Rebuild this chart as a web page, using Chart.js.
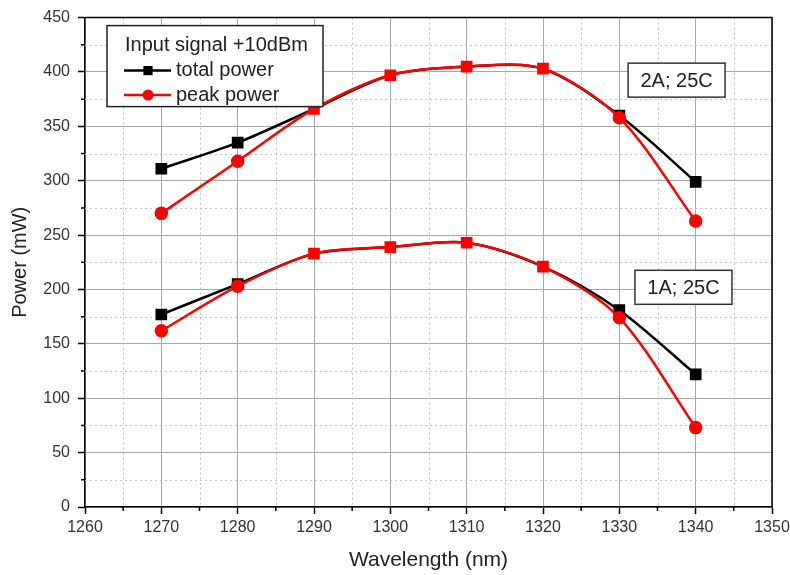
<!DOCTYPE html>
<html lang="en">
<head>
<meta charset="UTF-8">
<title>Power vs Wavelength</title>
<script src="https://cdn.jsdelivr.net/npm/chart.js"></script>
<style>
  body { margin: 0; background: #fff; }
  #wrap { width: 790px; height: 575px; }
</style>
</head>
<body>
<div id="wrap"><canvas id="powerChart" width="790" height="575"></canvas></div>
<script>
// wavelengths, nm
var wavelengths = [1270, 1280, 1290, 1300, 1310, 1320, 1330, 1340];
// 2A; 25C
var total2A = [311, 335, 366, 397, 405, 403, 360, 299];
var peak2A  = [270, 318, 366, 397, 405, 403, 358, 263];
// 1A; 25C
var total1A = [177, 205, 233, 239, 243, 221, 181, 122];
var peak1A  = [162, 203, 233, 239, 243, 221, 174, 73];

var legendTitle = 'Input signal +10dBm';
var seriesNames = ['total power', 'peak power'];
var notes = [
  { text: '2A; 25C', x: 1337.5, y: 392.5 },
  { text: '1A; 25C', x: 1338.4, y: 202 }
];

var FONT = '"Liberation Sans", Arial, sans-serif';
var RED = '#ff0000';

function toXY(ys) {
    return wavelengths.map(function (w, i) { return { x: w, y: ys[i] }; });
}

// where both curves sit on top of each other the original shows a red square only
function same(a, b, i) {
    return Math.abs(a[i] - b[i]) <= 1;
}

function totalSet(total, peak) {
    return {
        data: toXY(total),
        borderColor: '#000',
        borderWidth: 2.5,
        pointStyle: 'rect',
        pointRadius: 6.5,
        pointBackgroundColor: function (c) { return same(total, peak, c.dataIndex) ? RED : '#000'; },
        pointBorderColor: function (c) { return same(total, peak, c.dataIndex) ? RED : '#000'; },
        tension: 0.3,
        order: 1
    };
}

function peakSet(total, peak) {
    return {
        data: toXY(peak),
        borderColor: RED,
        borderWidth: 2.5,
        pointStyle: 'circle',
        pointRadius: function (c) { return same(total, peak, c.dataIndex) ? 0 : 5.5; },
        pointBackgroundColor: RED,
        pointBorderColor: RED,
        tension: 0.3,
        order: 0
    };
}

var framePlugin = {
    id: 'frame',
    beforeDatasetsDraw: function (chart) {
        var ctx = chart.ctx, a = chart.chartArea;
        var xs = chart.scales.x, ys = chart.scales.y;
        ctx.save();
        // minor dotted grid
        ctx.strokeStyle = '#c4c4c4';
        ctx.lineWidth = 1;
        ctx.setLineDash([2, 3]);
        ctx.beginPath();
        for (var v = 1265; v < 1350; v += 10) {
            var px = Math.round(xs.getPixelForValue(v)) + 0.5;
            ctx.moveTo(px, a.top); ctx.lineTo(px, a.bottom);
        }
        for (var w = 25; w < 450; w += 50) {
            var py = Math.round(ys.getPixelForValue(w)) + 0.5;
            ctx.moveTo(a.left, py); ctx.lineTo(a.right, py);
        }
        ctx.stroke();
        // minor ticks outside
        ctx.setLineDash([]);
        ctx.strokeStyle = '#000';
        ctx.lineWidth = 1.5;
        ctx.beginPath();
        for (v = 1265; v < 1350; v += 10) {
            px = xs.getPixelForValue(v);
            ctx.moveTo(px, a.bottom); ctx.lineTo(px, a.bottom + 4);
        }
        for (w = 25; w < 450; w += 50) {
            py = ys.getPixelForValue(w);
            ctx.moveTo(a.left, py); ctx.lineTo(a.left - 4, py);
        }
        ctx.stroke();
        // top and right frame
        ctx.beginPath();
        ctx.moveTo(a.left, a.top); ctx.lineTo(a.right, a.top); ctx.lineTo(a.right, a.bottom);
        ctx.stroke();
        ctx.restore();
    },
    afterDatasetsDraw: function (chart) {
        var ctx = chart.ctx, a = chart.chartArea;
        var xs = chart.scales.x, ys = chart.scales.y;
        ctx.save();
        ctx.font = '20px ' + FONT;
        ctx.textBaseline = 'middle';

        // legend box
        var bx = a.left + 22, by = a.top + 8, bw = 216, bh = 81;
        ctx.fillStyle = '#fff';
        ctx.fillRect(bx, by, bw, bh);
        ctx.strokeStyle = '#222';
        ctx.lineWidth = 1.5;
        ctx.strokeRect(bx, by, bw, bh);
        ctx.fillStyle = '#222';
        ctx.textAlign = 'left';
        ctx.fillText(legendTitle, bx + 18, by + 20);
        var colors = ['#000', RED];
        for (var i = 0; i < 2; i++) {
            var ly = by + 45 + i * 24.5;
            ctx.strokeStyle = colors[i];
            ctx.lineWidth = 2.5;
            ctx.beginPath();
            ctx.moveTo(bx + 17, ly); ctx.lineTo(bx + 64, ly);
            ctx.stroke();
            ctx.fillStyle = colors[i];
            ctx.beginPath();
            if (i === 0) ctx.rect(bx + 41 - 4.6, ly - 4.6, 9.2, 9.2);
            else ctx.arc(bx + 41, ly, 5.5, 0, Math.PI * 2);
            ctx.fill();
            ctx.fillStyle = '#222';
            ctx.fillText(seriesNames[i], bx + 69, ly);
        }

        // notes
        ctx.textAlign = 'center';
        notes.forEach(function (n) {
            var cx = xs.getPixelForValue(n.x), cy = ys.getPixelForValue(n.y);
            ctx.fillStyle = '#fff';
            ctx.fillRect(cx - 48.5, cy - 17, 97, 34);
            ctx.strokeStyle = '#333';
            ctx.lineWidth = 1.5;
            ctx.strokeRect(cx - 48.5, cy - 17, 97, 34);
            ctx.fillStyle = '#222';
            ctx.fillText(n.text, cx, cy + 1);
        });
        ctx.restore();
    }
};

var ctx = document.getElementById('powerChart').getContext('2d');
var chart = new Chart(ctx, {
    type: 'line',
    data: {
        datasets: [
            totalSet(total2A, peak2A), peakSet(total2A, peak2A),
            totalSet(total1A, peak1A), peakSet(total1A, peak1A)
        ]
    },
    options: {
        responsive: false,
        animation: false,
        devicePixelRatio: 1,
        layout: { padding: { top: 14, right: 18, left: 0, bottom: 0 } },
        plugins: { legend: { display: false }, tooltip: { enabled: false } },
        scales: {
            x: {
                type: 'linear',
                min: 1260, max: 1350,
                afterFit: function (s) { s.height = 68; s.paddingLeft = 0; s.paddingRight = 0; },
                ticks: { stepSize: 10, color: '#333', padding: 4, font: { family: FONT, size: 16 },
                         callback: function (v) { return String(v); } },
                grid: { color: '#a8a8a8', lineWidth: 1, tickLength: 7, tickColor: '#000', tickWidth: 1.5 },
                border: { color: '#000', width: 1.5 },
                title: { display: true, text: 'Wavelength (nm)', color: '#222',
                         font: { family: FONT, size: 21 }, padding: { top: 0, bottom: 2 } }
            },
            y: {
                min: 0, max: 450,
                afterFit: function (s) { s.width = 85; },
                ticks: { stepSize: 50, color: '#333', padding: 8, font: { family: FONT, size: 16 } },
                grid: { color: '#a8a8a8', lineWidth: 1, tickLength: 7, tickColor: '#000', tickWidth: 1.5 },
                border: { color: '#000', width: 1.5 },
                title: { display: true, text: 'Power (mW)', color: '#222',
                         font: { family: FONT, size: 20 }, padding: { top: 8, bottom: 0 } }
            }
        }
    },
    plugins: [framePlugin]
});
</script>
</body>
</html>
